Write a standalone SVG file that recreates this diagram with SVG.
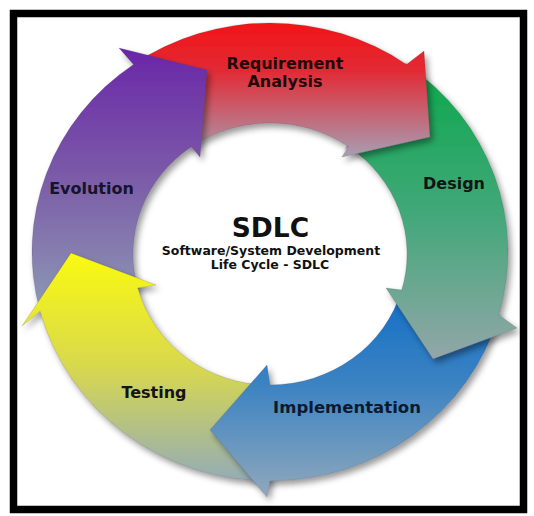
<svg xmlns="http://www.w3.org/2000/svg" width="534" height="516" viewBox="0 0 534 516">
  <style>
    .label { font-family: "DejaVu Sans", Verdana, sans-serif; font-weight: bold; font-size: 16px; fill: #141414; text-anchor: middle; }
    .title { font-family: "DejaVu Sans", Verdana, sans-serif; font-weight: bold; fill: #111; text-anchor: middle; }
    .arrow { stroke: rgba(60,60,70,0.3); stroke-width: 0.6; stroke-linejoin: round; filter: url(#shadow); }
  </style>
  <defs>
    <filter id="shadow" x="-10%" y="-10%" width="125%" height="125%">
      <feDropShadow dx="3" dy="4" stdDeviation="3" flood-color="#000" flood-opacity="0.4"/>
    </filter>
    <linearGradient id="gRed" gradientUnits="userSpaceOnUse" x1="0" y1="22" x2="0" y2="160">
      <stop offset="0" stop-color="#f21416"/>
      <stop offset="0.35" stop-color="#e22a34"/>
      <stop offset="1" stop-color="#a6a2b8"/>
    </linearGradient>
    <linearGradient id="gGreen" gradientUnits="userSpaceOnUse" x1="0" y1="64" x2="0" y2="365">
      <stop offset="0" stop-color="#0aa84a"/>
      <stop offset="0.5" stop-color="#42a87a"/>
      <stop offset="1" stop-color="#96a6aa"/>
    </linearGradient>
    <linearGradient id="gBlue" gradientUnits="userSpaceOnUse" x1="0" y1="288" x2="0" y2="497">
      <stop offset="0" stop-color="#126ec6"/>
      <stop offset="0.45" stop-color="#3a82c2"/>
      <stop offset="1" stop-color="#90a8bc"/>
    </linearGradient>
    <linearGradient id="gYellow" gradientUnits="userSpaceOnUse" x1="0" y1="253" x2="0" y2="481">
      <stop offset="0" stop-color="#fafa10"/>
      <stop offset="0.5" stop-color="#d8d84e"/>
      <stop offset="1" stop-color="#94acb6"/>
    </linearGradient>
    <linearGradient id="gPurple" gradientUnits="userSpaceOnUse" x1="0" y1="48" x2="0" y2="320">
      <stop offset="0" stop-color="#6a26a8"/>
      <stop offset="0.5" stop-color="#7c5ea8"/>
      <stop offset="1" stop-color="#8e9eb6"/>
    </linearGradient>
    <!-- the ring is a closed loop: the red arrow is split along its head base
         so its tail sits under the purple head while its head overlaps green -->
    <clipPath id="redTail">
      <polygon points="261.8,270 480,-40 -100,-40 -100,700 261.8,700"/>
    </clipPath>
    <clipPath id="redHead">
      <polygon points="260.2,268.8 478.4,-41.2 700,-41.2 700,700 260.2,700"/>
    </clipPath>
  </defs>

  <!-- page -->
  <rect x="0" y="0" width="534" height="516" fill="#fff"/>
  <rect x="13.5" y="13.5" width="510" height="496" fill="none" stroke="#000" stroke-width="7.5"/>

  <!-- stages: each one is a curved arrow pointing into the next stage -->
  <g id="stage-requirement">
    <path id="arrowRed" class="arrow" clip-path="url(#redTail)" fill="url(#gRed)"
          d="M133.5,64.4 A238,229 0 0 1 406.5,64.4 L424,51 L430,137 L342,157 L348.6,146.7 A137,131 0 0 0 191.4,146.7 Z"/>
  </g>
  <g id="stage-evolution">
    <path class="arrow" fill="url(#gPurple)"
          d="M40.1,311.3 A238,229 0 0 1 133.5,64.4 L119,48 L207,70 L200,157 L191.4,146.7 A137,131 0 0 0 137.7,287.9 Z"/>
  </g>
  <g id="stage-testing">
    <path class="arrow" fill="url(#gYellow)"
          d="M270,481 A238,229 0 0 1 40.1,311.3 L22,326 L71,253 L156,285 L137.7,287.9 A137,131 0 0 0 270,385 Z"/>
  </g>
  <g id="stage-implementation">
    <path class="arrow" fill="url(#gBlue)"
          d="M498.8,315.1 A238,229 0 0 1 270,481 L267,497 L210,430 L267,365 L270,385 A137,131 0 0 0 401.7,290.1 Z"/>
  </g>
  <g id="stage-design">
    <path class="arrow" fill="url(#gGreen)"
          d="M406.5,64.4 A238,229 0 0 1 498.8,315.1 L517,328 L433,359 L386,288 L401.7,290.1 A137,131 0 0 0 348.6,146.7 Z"/>
  </g>

  <!-- head of the red arrow, laid over the start of the green one -->
  <g id="connectors">
    <path class="arrow" clip-path="url(#redHead)" fill="url(#gRed)"
          d="M133.5,64.4 A238,229 0 0 1 406.5,64.4 L424,51 L430,137 L342,157 L348.6,146.7 A137,131 0 0 0 191.4,146.7 Z"/>
  </g>

  <!-- stage labels -->
  <g id="labels">
    <text class="label" x="285" y="69" style="fill:#1e0a0a">Requirement</text>
    <text class="label" x="285" y="87" style="fill:#1e0a0a">Analysis</text>
    <text class="label" x="454" y="189">Design</text>
    <text class="label" x="347" y="413" style="font-size:16.5px;fill:#0c1a30">Implementation</text>
    <text class="label" x="154" y="398">Testing</text>
    <text class="label" x="91.5" y="194" style="fill:#14142a">Evolution</text>
  </g>

  <!-- centre title -->
  <g id="title">
    <text class="title" x="270.5" y="237" font-size="26.5">SDLC</text>
    <text class="title" x="271" y="255" font-size="12.5">Software/System Development</text>
    <text class="title" x="270" y="269" font-size="12.5">Life Cycle - SDLC</text>
  </g>
</svg>
